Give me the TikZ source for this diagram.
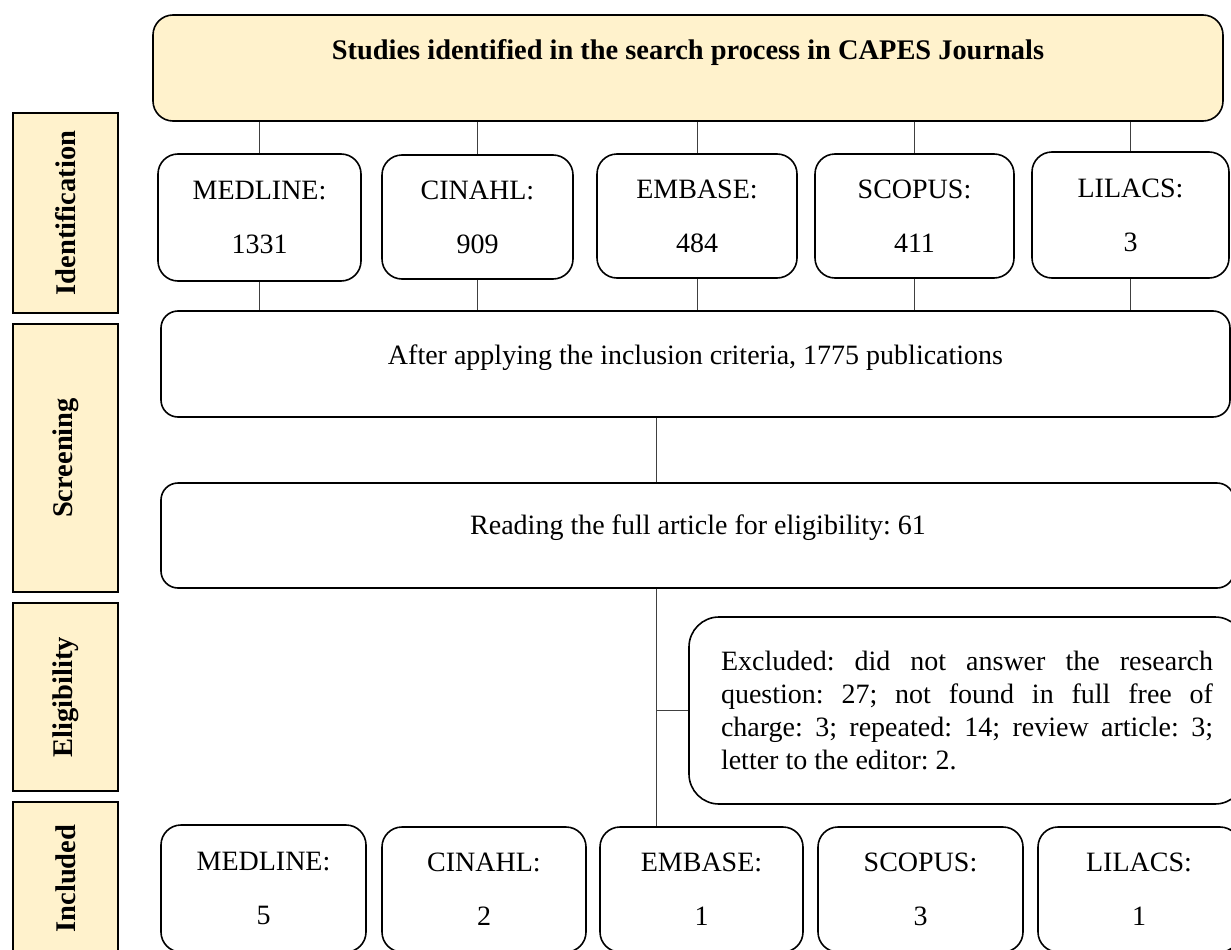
\documentclass[tikz,border=0pt]{standalone}
\usepackage{fontspec}
\setmainfont{Liberation Serif}
\definecolor{phase}{HTML}{FFF2CC}
\definecolor{connc}{HTML}{404040}
\tikzset{
  box/.style={draw=black, line width=1.6pt, rounded corners=20pt, inner sep=0pt, fill=white, align=center},
  sidebox/.style={draw=black, line width=1.6pt, fill=phase, inner sep=0pt, rotate=90, font=\bfseries\fontsize{28.5}{32}\selectfont},
  conn/.style={draw=connc, line width=1pt},
  txt/.style={font=\fontsize{28}{32}\selectfont},
  dbtxt/.style={font=\fontsize{28}{54}\selectfont},
}
\begin{document}
\frenchspacing
\begin{tikzpicture}[x=1pt,y=-1pt]
\useasboundingbox (0,0) rectangle (1231,950);
% phase labels
\node[sidebox, minimum width=200pt, minimum height=105pt] (p1) at (65.5,213) {Identification};
\node[sidebox, minimum width=268pt, minimum height=105pt] (p2) at (65.5,458) {Screening};
\node[sidebox, minimum width=188pt, minimum height=105pt] (p3) at (65.5,697) {Eligibility};
\node[sidebox, minimum width=153pt, minimum height=105pt] (p4) at (65.5,878.5) {Included};
% top box
\node[box, fill=phase, minimum width=1070pt, minimum height=106pt] (top) at (688,68) {};
\node[font=\bfseries\fontsize{28.4}{32}\selectfont] (toptxt) at (688,53) {Studies identified in the search process in CAPES Journals};
% sources
\node[box, dbtxt, minimum width=203pt, minimum height=127pt] (s1) at (259.5,217.5) {MEDLINE:\\1331};
\node[box, dbtxt, minimum width=191pt, minimum height=124pt] (s2) at (477.5,217) {CINAHL:\\909};
\node[box, dbtxt, minimum width=200pt, minimum height=124pt] (s3) at (697,216) {EMBASE:\\484};
\node[box, dbtxt, minimum width=199pt, minimum height=124pt] (s4) at (914.5,216) {SCOPUS:\\411};
\node[box, dbtxt, minimum width=197pt, minimum height=126pt] (s5) at (1130.5,215) {LILACS:\\3};
% screening
\node[box, rounded corners=17pt, minimum width=1069pt, minimum height=106pt] (scr) at (695.5,364) {};
\node[txt] (scrtxt) at (695.5,358) {After applying the inclusion criteria, 1775 publications};
\node[box, rounded corners=17pt, minimum width=1073pt, minimum height=105pt] (read) at (697.5,535.5) {};
\node[txt] (readtxt) at (698,528) {Reading the full article for eligibility: 61};
% excluded
\node[box, rounded corners=30pt, minimum width=556pt, minimum height=187pt, text width=492pt, align=justify, font=\fontsize{28}{33}\selectfont] (excl) at (967,710.5)
  {\hyphenpenalty=10000 Excluded: did not answer the research\linebreak question: 27; not found in full free of\linebreak charge: 3; repeated: 14; review article: 3;\linebreak letter to the editor: 2.};
% included
\node[box, dbtxt, minimum width=205pt, minimum height=127pt] (i1) at (263.5,888.5) {MEDLINE:\\5};
\node[box, dbtxt, minimum width=204pt, minimum height=125pt] (i2) at (484,889.5) {CINAHL:\\2};
\node[box, dbtxt, minimum width=203pt, minimum height=125pt] (i3) at (701.5,889.5) {EMBASE:\\1};
\node[box, dbtxt, minimum width=205pt, minimum height=125pt] (i4) at (920.5,889.5) {SCOPUS:\\3};
\node[box, dbtxt, minimum width=202pt, minimum height=125pt] (i5) at (1139,889.5) {LILACS:\\1};
% connectors
\coordinate (spine) at (656,0);
\foreach \s in {s1,s2,s3,s4,s5}{
  \draw[conn] (\s.north |- top.south) -- (\s.north);
  \draw[conn] (\s.south) -- (\s.south |- scr.north);
}
\draw[conn] (scr.south -| spine) -- (read.north -| spine);
\draw[conn] (read.south -| spine) -- (i3.north -| spine);
\draw[conn] (excl.west -| spine) -- (excl.west);
\end{tikzpicture}
\end{document}
